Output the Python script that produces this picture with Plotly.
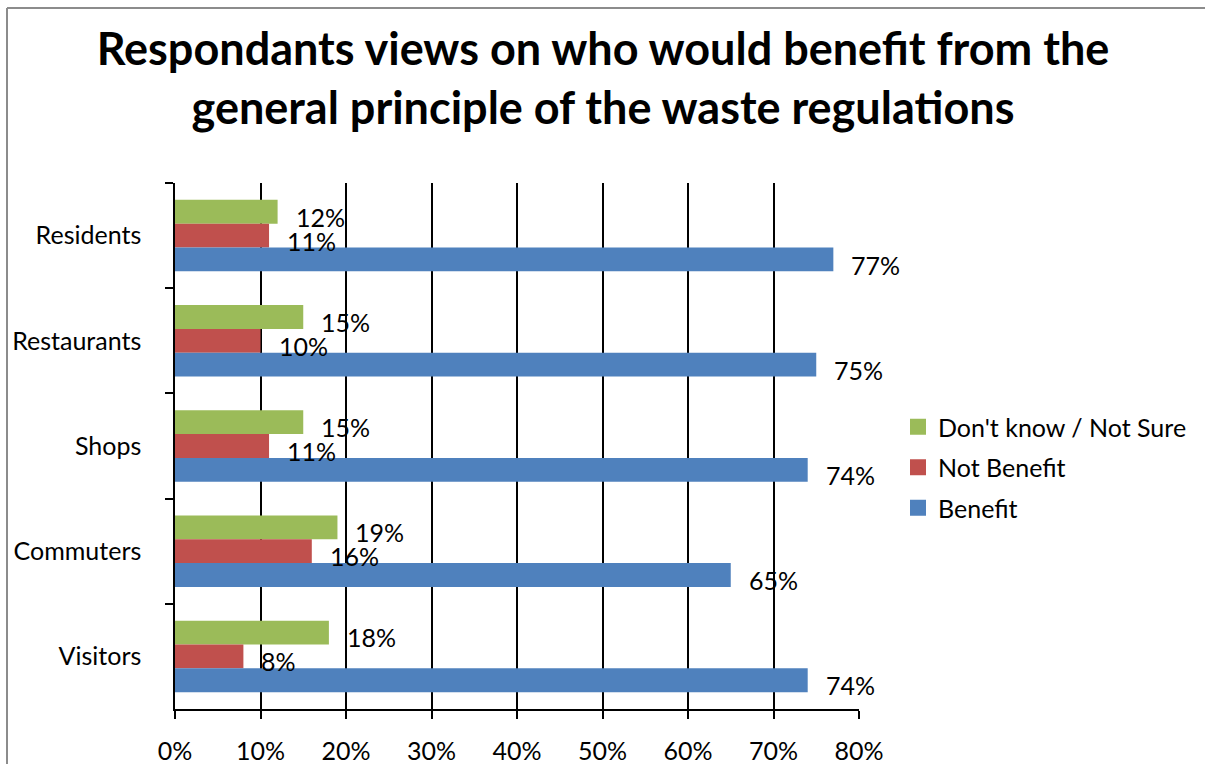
import plotly.graph_objects as go

categories = ["Residents", "Restaurants", "Shops", "Commuters", "Visitors"]
dont_know = [0.12, 0.15, 0.15, 0.19, 0.18]
not_benefit = [0.11, 0.10, 0.11, 0.16, 0.08]
benefit = [0.77, 0.75, 0.74, 0.65, 0.74]
series_names = ["Don't know / Not Sure", "Not Benefit", "Benefit"]
x_ticks = [0, 0.1, 0.2, 0.3, 0.4, 0.5, 0.6, 0.7, 0.8]
title_text = "Respondants views on who would benefit from the<br>general principle of the waste regulations"

colors = ["#9BBB59", "#C0504D", "#4F81BD"]
series = [dont_know, not_benefit, benefit]
yshifts = [19, -5, -29]

FONT = "Lato"
FS = 25
W, H = 1205, 764
L, R, T, B = 175, 859, 183, 709

fig = go.Figure()
for name, vals, col in zip(series_names, series, colors):
    fig.add_trace(go.Bar(
        name=name, y=categories, x=vals, orientation="h",
        marker=dict(color=col, line=dict(width=0)),
        legendgroup=name, showlegend=False,
    ))
    fig.add_trace(go.Scatter(
        name=name, x=[None], y=[None], mode="markers",
        marker=dict(symbol="square", size=16, color=col),
        legendgroup=name, showlegend=True,
    ))

annotations = []
for vals, ys in zip(series, yshifts):
    for cat, v in zip(categories, vals):
        annotations.append(dict(
            x=v, y=cat, xref="x", yref="y", text=f"{round(v*100)}%",
            showarrow=False, xanchor="left", yanchor="middle",
            xshift=16, yshift=ys, font=dict(family=FONT, size=FS, color="black"),
        ))

pw = R - L
ph = B - T
def px_x(p):
    return (p - L) / pw
def px_y(p):
    return (B - p) / ph

shapes = [
    dict(type="line", xref="paper", yref="paper", x0=px_x(7), x1=px_x(1215),
         y0=px_y(8), y1=px_y(8), line=dict(color="#8C8C8C", width=2)),
    dict(type="line", xref="paper", yref="paper", x0=px_x(7), x1=px_x(7),
         y0=px_y(8), y1=px_y(775), line=dict(color="#8C8C8C", width=2)),
]

fig.update_layout(
    width=W, height=H,
    margin=dict(l=L, r=W - R, t=T, b=H - B, autoexpand=False),
    paper_bgcolor="white", plot_bgcolor="white",
    barmode="group", bargap=0.32, bargroupgap=0,
    title=dict(text=title_text, x=603 / W, xref="container", xanchor="center",
               y=1 - 65 / H, yref="container", yanchor="middle",
               font=dict(family=FONT, size=45, color="black", weight="bold")),
    font=dict(family=FONT, size=FS, color="black"),
    legend=dict(x=px_x(898), y=px_y(404), xanchor="left", yanchor="top",
                font=dict(family=FONT, size=FS, color="black"),
                tracegroupgap=5, bgcolor="rgba(0,0,0,0)"),
    annotations=annotations,
    shapes=shapes,
    xaxis=dict(range=[0, 0.8], tickvals=x_ticks, tickformat=".0%",
               showgrid=True, gridcolor="black", gridwidth=1.5,
               showline=True, linecolor="black", linewidth=1.5,
               ticks="outside", ticklen=8, tickcolor="black", tickwidth=1.5,
               zeroline=False, ticklabelstandoff=11,
               tickfont=dict(family=FONT, size=FS, color="black")),
    yaxis=dict(autorange="reversed", categoryorder="array", categoryarray=categories,
               showline=True, linecolor="black", linewidth=1.5,
               ticks="outside", ticklen=8, tickcolor="black", tickwidth=1.5,
               tickson="boundaries", showgrid=False, ticklabelstandoff=27,
               tickfont=dict(family=FONT, size=FS, color="black")),
)

fig.write_html("out.html", config={"displayModeBar": False},
               post_script="document.body.style.margin='0';")
